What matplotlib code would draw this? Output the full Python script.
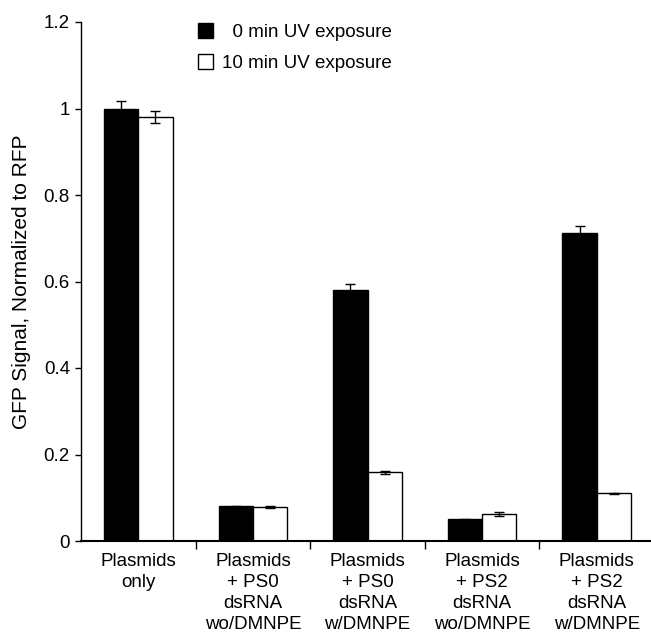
import matplotlib
matplotlib.use("Agg")
import matplotlib.pyplot as plt
import matplotlib.patches as mpatches
import numpy as np

plt.rcParams['font.family'] = ['Liberation Sans', 'DejaVu Sans']

# data
groups = ["Plasmids\nonly",
          "Plasmids\n+ PS0\ndsRNA\nwo/DMNPE",
          "Plasmids\n+ PS0\ndsRNA\nw/DMNPE",
          "Plasmids\n+ PS2\ndsRNA\nwo/DMNPE",
          "Plasmids\n+ PS2\ndsRNA\nw/DMNPE"]
uv0 = [1.0, 0.080, 0.580, 0.050, 0.711]
uv0_err = [0.017, 0.002, 0.015, 0.001, 0.017]
uv10 = [0.980, 0.079, 0.159, 0.062, 0.110]
uv10_err = [0.014, 0.003, 0.004, 0.004, 0.002]

fig = plt.figure(figsize=(6.51, 6.34), dpi=100)
ax = fig.add_axes([81/651, 1-541/634, (651-81)/651, (541-22)/634])

x = np.arange(len(groups)) + 0.5
w = 0.3
ekw = dict(ecolor='black', elinewidth=1, capsize=3.5, capthick=1)
ax.bar(x - w/2, uv0, w, color='black', edgecolor='black', linewidth=1,
       yerr=uv0_err, error_kw=ekw, zorder=2)
ax.bar(x + w/2, uv10, w, color='white', edgecolor='black', linewidth=1,
       yerr=uv10_err, error_kw=ekw, zorder=2)

ax.set_xlim(0, 5 * (651-81)/(654-81))
ax.set_ylim(0, 1.2)
ax.set_yticks([0, 0.2, 0.4, 0.6, 0.8, 1.0, 1.2])
ax.set_yticklabels(["0", "0.2", "0.4", "0.6", "0.8", "1", "1.2"])

# group boundaries get the x ticks, the labels sit under each pair
ax.set_xticks(np.arange(1, 5))
ax.set_xticklabels([])
ax.tick_params(axis='x', direction='out', length=6, width=1)
for xi, lab in zip(x, groups):
    ax.text(xi, -0.027, lab, ha='center', va='top', fontsize=13.5,
            linespacing=1.32)

ax.tick_params(axis='y', direction='out', length=4, width=1, labelsize=13.5, pad=4)
ax.spines['top'].set_visible(False)
ax.spines['right'].set_visible(False)
ax.spines['bottom'].set_linewidth(1.5)
ax.spines['left'].set_linewidth(1)

ax.set_ylabel("GFP Signal, Normalized to RFP", fontsize=15, labelpad=9)

h0 = mpatches.Patch(facecolor='black', edgecolor='black')
h1 = mpatches.Patch(facecolor='white', edgecolor='black')
fig.legend([h0, h1], ["  0 min UV exposure", "10 min UV exposure"],
           loc='upper left', bbox_to_anchor=(181/651, 1-6/634),
           frameon=False, fontsize=13.5, handlelength=0.8, handleheight=0.85,
           handletextpad=0.5, labelspacing=0.7)

fig.savefig("out.png", dpi=100)
